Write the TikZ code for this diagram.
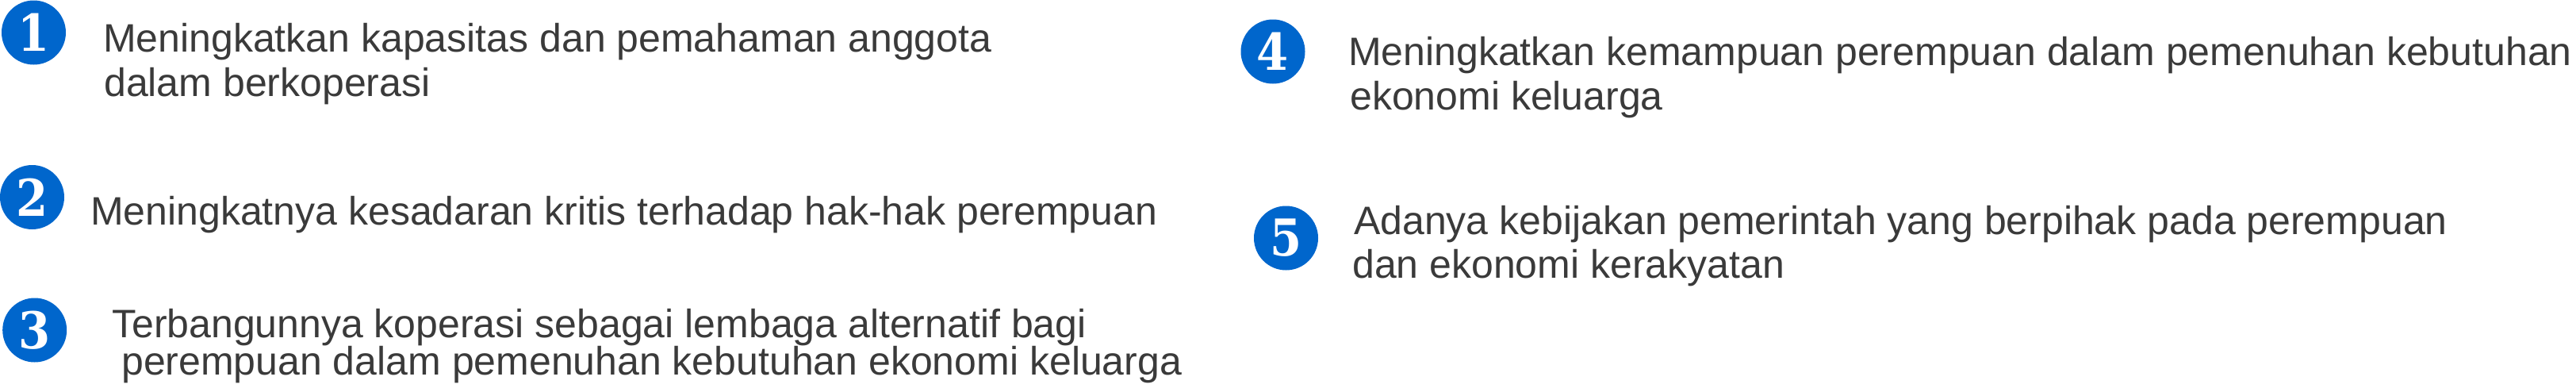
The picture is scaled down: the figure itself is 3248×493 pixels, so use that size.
\documentclass[tikz,border=0pt]{standalone}
\usepackage{fontspec}
\setmainfont{Liberation Sans}
\newfontfamily\numfont{DejaVu Serif Condensed}
\definecolor{numblue}{HTML}{0066CC}
\definecolor{txtgray}{HTML}{3A3A3A}
\tikzset{
  num/.style={circle, fill=numblue, minimum size=81pt, inner sep=0pt, text=white,
    font=\numfont\bfseries\fontsize{64pt}{64pt}\selectfont},
  line/.style={anchor=base west, inner sep=0pt, text=txtgray,
    font=\fontsize{50pt}{56pt}\selectfont}
}
\begin{document}
\begin{tikzpicture}[x=1pt,y=-1pt]
\useasboundingbox (0,0) rectangle (3248,493);
% numbered circles
\node[num] (n1) at (42.5,41) {1};
\node[num] (n2) at (40.5,248.5) {2};
\node[num] (n3) at (43.7,416) {3};
\node[num] (n4) at (1605,65) {4};
\node[num] (n5) at (1621.5,300) {5};
% texts
\node[line] (t1a) at (130,65) {Meningkatkan kapasitas dan pemahaman anggota};
\node[line] (t1b) at (131,121) {dalam berkoperasi};
\node[line] (t2) at (114,283) {Meningkatnya kesadaran kritis terhadap hak-hak perempuan};
\node[line] (t3a) at (141,425) {Terbangunnya koperasi sebagai lembaga alternatif bagi};
\node[line] (t3b) at (153,472) {perempuan dalam pemenuhan kebutuhan ekonomi keluarga};
\node[line] (t4a) at (1700,82) {Meningkatkan kemampuan perempuan dalam pemenuhan kebutuhan};
\node[line] (t4b) at (1702,138) {ekonomi keluarga};
\node[line] (t5a) at (1707,295) {Adanya kebijakan pemerintah yang berpihak pada perempuan};
\node[line] (t5b) at (1705,350) {dan ekonomi kerakyatan};
\end{tikzpicture}
\end{document}
